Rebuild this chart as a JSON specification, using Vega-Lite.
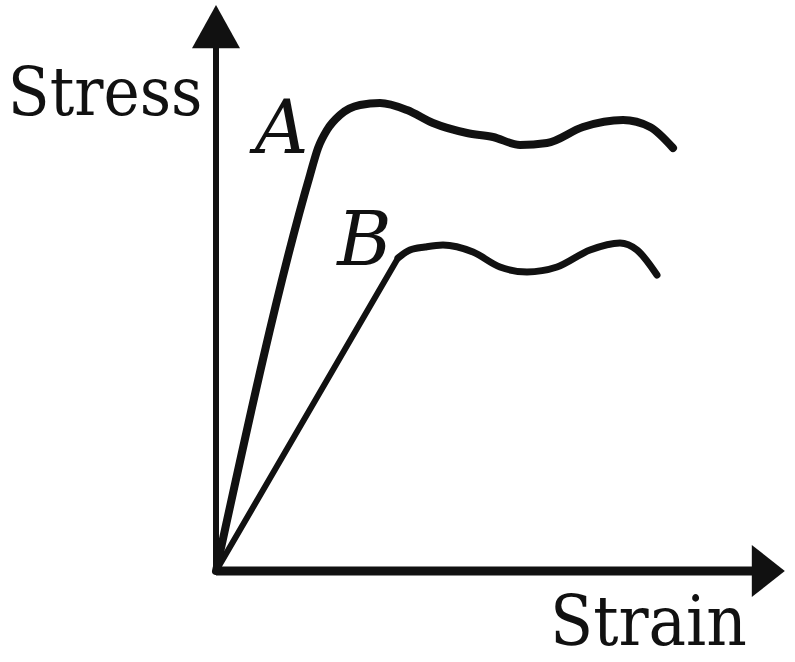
{
  "$schema": "https://vega.github.io/schema/vega-lite/v6.json",
  "autosize": {"type": "none"},
  "width": 569,
  "height": 566,
  "padding": {"left": 216, "top": 5, "right": 10, "bottom": 91},
  "background": "white",
  "config": {"view": {"stroke": null}},
  "datasets": {
    "curves": [
      {"series": "A", "part": "curve", "strain": 0, "stress": 0},
      {"series": "A", "part": "curve", "strain": 16.52, "stress": 69.96},
      {"series": "A", "part": "curve", "strain": 17.93, "stress": 74.73},
      {"series": "A", "part": "curve", "strain": 19.51, "stress": 77.92},
      {"series": "A", "part": "curve", "strain": 21.79, "stress": 80.57},
      {"series": "A", "part": "curve", "strain": 25.31, "stress": 82.33},
      {"series": "A", "part": "curve", "strain": 28.82, "stress": 82.69},
      {"series": "A", "part": "curve", "strain": 33.57, "stress": 81.45},
      {"series": "A", "part": "curve", "strain": 38.14, "stress": 79.15},
      {"series": "A", "part": "curve", "strain": 44.11, "stress": 77.39},
      {"series": "A", "part": "curve", "strain": 48.68, "stress": 76.68},
      {"series": "A", "part": "curve", "strain": 53.43, "stress": 75.27},
      {"series": "A", "part": "curve", "strain": 58.17, "stress": 75.62},
      {"series": "A", "part": "curve", "strain": 64.5, "stress": 78.45},
      {"series": "A", "part": "curve", "strain": 71.53, "stress": 79.68},
      {"series": "A", "part": "curve", "strain": 76.27, "stress": 78.45},
      {"series": "A", "part": "curve", "strain": 80.32, "stress": 74.73},
      {"series": "B", "part": "rise", "strain": 0, "stress": 0},
      {"series": "B", "part": "rise", "strain": 31.99, "stress": 55.3},
      {"series": "B", "part": "curve", "strain": 31.99, "stress": 55.3},
      {"series": "B", "part": "curve", "strain": 34.09, "stress": 56.71},
      {"series": "B", "part": "curve", "strain": 36.73, "stress": 57.24},
      {"series": "B", "part": "curve", "strain": 39.89, "stress": 57.6},
      {"series": "B", "part": "curve", "strain": 45.17, "stress": 56.36},
      {"series": "B", "part": "curve", "strain": 49.91, "stress": 53.71},
      {"series": "B", "part": "curve", "strain": 54.66, "stress": 52.83},
      {"series": "B", "part": "curve", "strain": 59.93, "stress": 53.71},
      {"series": "B", "part": "curve", "strain": 65.73, "stress": 56.71},
      {"series": "B", "part": "curve", "strain": 71.0, "stress": 57.95},
      {"series": "B", "part": "curve", "strain": 73.99, "stress": 56.71},
      {"series": "B", "part": "curve", "strain": 77.5, "stress": 52.3}
    ],
    "yaxis": [{"x": 0, "y": 0, "x2": 0, "y2": 92.4}],
    "xaxis": [{"x": 0, "y": 0, "x2": 94.7, "y2": 0}],
    "yarrow": [{"x": 0, "y": 96.1}],
    "xarrow": [{"x": 97.0, "y": 0}],
    "stressTitle": [{"label": "Stress", "x": -36.6, "y": 80.6}],
    "strainTitle": [{"label": "Strain", "x": 58.7, "y": -15.7}],
    "curveLabels": [
      {"label": "A", "x": 6.85, "y": 73.9},
      {"label": "B", "x": 21.3, "y": 54.1}
    ]
  },
  "layer": [
    {
      "data": {"name": "yaxis"},
      "mark": {"type": "rule", "color": "#111", "strokeWidth": 6},
      "encoding": {
        "x": {"field": "x", "type": "quantitative", "scale": {"domain": [0, 100], "nice": false, "zero": false}, "axis": null},
        "y": {"field": "y", "type": "quantitative", "scale": {"domain": [0, 100], "nice": false, "zero": false}, "axis": null},
        "x2": {"field": "x2"},
        "y2": {"field": "y2"}
      }
    },
    {
      "data": {"name": "xaxis"},
      "mark": {"type": "rule", "color": "#111", "strokeWidth": 9},
      "encoding": {
        "x": {"field": "x", "type": "quantitative"},
        "y": {"field": "y", "type": "quantitative"},
        "x2": {"field": "x2"},
        "y2": {"field": "y2"}
      }
    },
    {
      "data": {"name": "yarrow"},
      "mark": {"type": "point", "filled": true, "opacity": 1, "color": "#111", "size": 2304, "shape": "M0,-0.92L1,0.88L-1,0.88Z"},
      "encoding": {
        "x": {"field": "x", "type": "quantitative"},
        "y": {"field": "y", "type": "quantitative"}
      }
    },
    {
      "data": {"name": "xarrow"},
      "mark": {"type": "point", "filled": true, "opacity": 1, "color": "#111", "size": 2704, "shape": "M0.65,0L-0.62,-1L-0.62,1Z"},
      "encoding": {
        "x": {"field": "x", "type": "quantitative"},
        "y": {"field": "y", "type": "quantitative"}
      }
    },
    {
      "data": {"name": "curves"},
      "transform": [{"filter": "datum.part === 'rise'"}],
      "mark": {"type": "line", "color": "#111", "interpolate": "linear", "strokeWidth": 6, "strokeCap": "round"},
      "encoding": {
        "x": {"field": "strain", "type": "quantitative"},
        "y": {"field": "stress", "type": "quantitative"},
        "detail": {"field": "series"}
      }
    },
    {
      "data": {"name": "curves"},
      "transform": [{"filter": "datum.part === 'curve'"}],
      "mark": {"type": "line", "color": "#111", "interpolate": "monotone", "strokeJoin": "round", "strokeCap": "round"},
      "encoding": {
        "x": {"field": "strain", "type": "quantitative"},
        "y": {"field": "stress", "type": "quantitative"},
        "detail": {"field": "series"},
        "strokeWidth": {"field": "series", "type": "nominal", "scale": {"domain": ["A", "B"], "range": [8, 7]}, "legend": null}
      }
    },
    {
      "data": {"name": "stressTitle"},
      "mark": {"type": "text", "font": "DejaVu Serif Condensed", "fontSize": 68, "align": "left", "baseline": "alphabetic", "color": "#111"},
      "encoding": {
        "x": {"field": "x", "type": "quantitative"},
        "y": {"field": "y", "type": "quantitative"},
        "text": {"field": "label"}
      }
    },
    {
      "data": {"name": "strainTitle"},
      "mark": {"type": "text", "font": "DejaVu Serif Condensed", "fontSize": 70, "align": "left", "baseline": "bottom", "color": "#111"},
      "encoding": {
        "x": {"field": "x", "type": "quantitative"},
        "y": {"field": "y", "type": "quantitative"},
        "text": {"field": "label"}
      }
    },
    {
      "data": {"name": "curveLabels"},
      "mark": {"type": "text", "font": "DejaVu Serif", "fontStyle": "italic", "fontSize": 74, "align": "left", "baseline": "alphabetic", "color": "#111"},
      "encoding": {
        "x": {"field": "x", "type": "quantitative"},
        "y": {"field": "y", "type": "quantitative"},
        "text": {"field": "label"}
      }
    }
  ]
}
